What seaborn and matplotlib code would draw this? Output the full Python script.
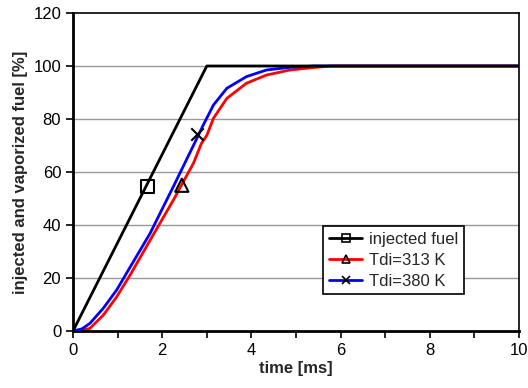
import numpy as np
import pandas as pd
import matplotlib
matplotlib.use("Agg")
import matplotlib.pyplot as plt
import seaborn as sns
from matplotlib.lines import Line2D
from matplotlib.ticker import MultipleLocator

# data
t_inj = [0.0, 3.0, 10.0]
v_inj = [0.0, 100.0, 100.0]

t_313 = [0.0, 0.2, 0.38, 0.68, 0.98, 1.28, 1.73, 2.25, 2.70, 2.88, 3.0, 3.15, 3.45,
         3.89, 4.34, 4.87, 5.38, 5.8, 10.0]
v_313 = [0.0, 0.3, 1.0, 6.0, 12.9, 21.1, 34.3, 49.4, 63.3, 70.8, 73.8, 80.3, 87.8,
         93.5, 96.6, 98.5, 99.4, 100.0, 100.0]

t_380 = [0.0, 0.2, 0.38, 0.68, 0.98, 1.2, 1.73, 2.25, 2.70, 2.92, 3.15, 3.45,
         3.89, 4.34, 4.87, 5.4, 10.0]
v_380 = [0.0, 0.8, 2.9, 8.6, 15.5, 21.8, 36.9, 54.5, 70.0, 77.7, 85.3, 91.6,
         96.0, 98.5, 99.5, 100.0, 100.0]

marker_t = [1.67, 2.44, 2.77]
marker_v = [54.5, 55.0, 74.3]
labels = ["injected fuel", "Tdi=313 K", "Tdi=380 K"]
colors = ["black", "#ff0000", "#0000ff"]
markers = ["s", "^", "x"]

sns.set_style("white")
plt.rcParams['font.family'] = ['Liberation Sans', 'DejaVu Sans']

fig = plt.figure(figsize=(5.28, 3.88), dpi=100)
ax = fig.add_axes([73/528, 1-331/388, (519-73)/528, (331-13)/388])

for y in [20, 40, 60, 80, 100]:
    ax.axhline(y, color="#999999", lw=1.0, zorder=0)

df_inj = pd.DataFrame({"t": t_inj, "v": v_inj})
df_313 = pd.DataFrame({"t": t_313, "v": v_313})
df_380 = pd.DataFrame({"t": t_380, "v": v_380})
sns.lineplot(data=df_313, x="t", y="v", color=colors[1], lw=2, ax=ax, sort=False, zorder=2)
sns.lineplot(data=df_380, x="t", y="v", color=colors[2], lw=2, ax=ax, sort=False, zorder=3)
sns.lineplot(data=df_inj, x="t", y="v", color=colors[0], lw=2, ax=ax, sort=False, zorder=4)

ax.scatter([marker_t[0]], [marker_v[0]], marker="s", s=80, facecolors="none", edgecolors="black", linewidths=1.5, zorder=5)
ax.scatter([marker_t[1]], [marker_v[1]], marker="^", s=90, facecolors="none", edgecolors="black", linewidths=1.5, zorder=5)
ax.scatter([marker_t[2]], [marker_v[2]], marker="x", s=80, color="black", linewidths=1.5, zorder=5)

ax.set_xlim(0, 10)
ax.set_ylim(0, 120)
ax.xaxis.set_major_locator(MultipleLocator(2))
ax.xaxis.set_minor_locator(MultipleLocator(1))
ax.yaxis.set_major_locator(MultipleLocator(20))
ax.tick_params(axis="both", which="both", direction="out", length=5, width=1.2, labelsize=12, colors="black", bottom=True, left=True)
ax.tick_params(axis="x", which="minor", length=5, width=1.2)
for s in ax.spines.values():
    s.set_color("black")
    s.set_linewidth(1.2)
ax.spines["left"].set_linewidth(2)
ax.spines["bottom"].set_linewidth(2)

ax.set_xlabel("time [ms]", fontsize=12, fontweight="bold", labelpad=2)
ax.set_ylabel("injected and vaporized fuel [%]", fontsize=12, fontweight="bold", labelpad=4)

handles = [Line2D([0], [0], color=c, lw=2, marker=m, markersize=6,
                  markerfacecolor="none", markeredgecolor="black", markeredgewidth=1.2)
           for c, m in zip(colors, markers)]
leg = ax.legend(handles, labels, loc="upper left", bbox_to_anchor=((323-73)/446, (331-226)/318),
                fontsize=12, frameon=True, fancybox=False, framealpha=1, edgecolor="black",
                borderpad=0.35, handlelength=2.0, labelspacing=0.35, handletextpad=0.4, borderaxespad=0)
leg.get_frame().set_linewidth(1.2)

fig.savefig("out.png", dpi=100)
